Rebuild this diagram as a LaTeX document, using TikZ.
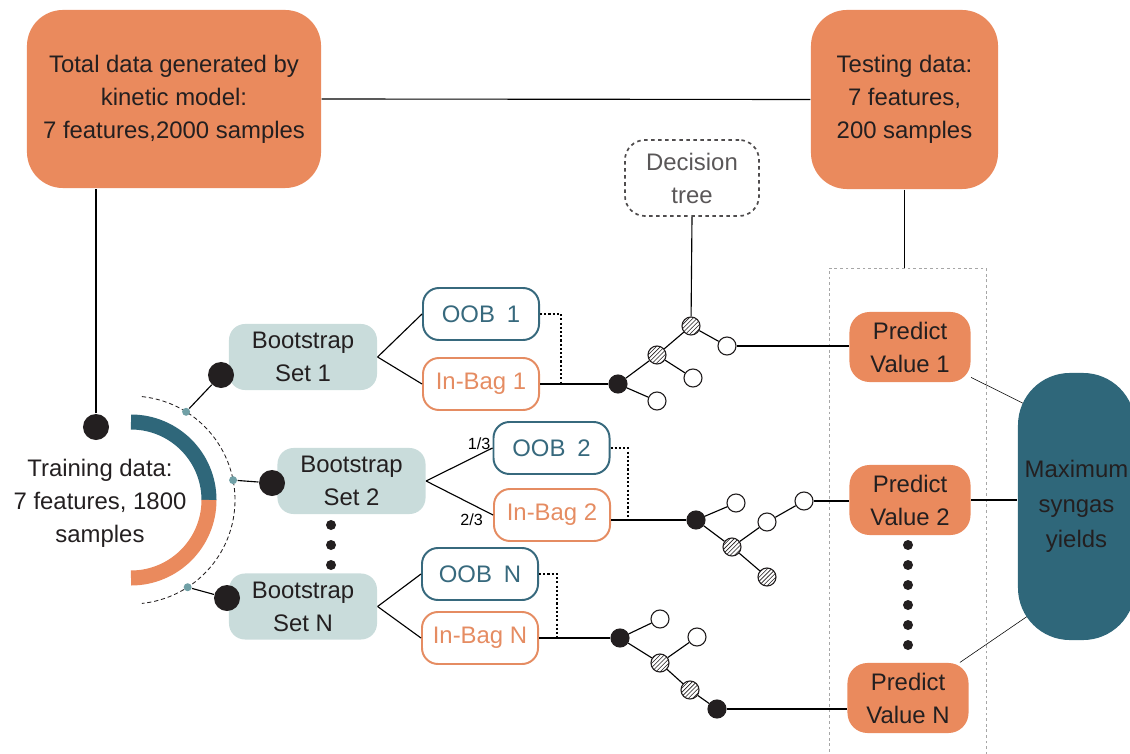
\documentclass[tikz,border=0pt]{standalone}
\usepackage{fontspec}
\setmainfont{Liberation Sans}
\usetikzlibrary{patterns,backgrounds}

\definecolor{oranye}{RGB}{234,138,93}
\definecolor{birutua}{RGB}{47,103,122}
\definecolor{birumuda}{RGB}{201,220,219}
\definecolor{garisoob}{RGB}{55,105,125}
\definecolor{garisbag}{RGB}{229,140,98}
\definecolor{teks}{RGB}{35,31,32}
\definecolor{titik}{RGB}{112,160,166}

\begin{document}
\begin{tikzpicture}[x=0.025cm, y=-0.025cm, line width=0.8pt,
    font=\fontsize{17}{23.5}\selectfont,
    kotakdata/.style={rectangle, rounded corners=0.9cm, fill=oranye, text=teks, align=center},
    kotakboot/.style={rectangle, rounded corners=0.4cm, fill=birumuda, text=teks, align=center,
        minimum width=3.7cm, minimum height=1.65cm},
    kotakoob/.style={rectangle, rounded corners=0.4cm, draw=garisoob, line width=1.4pt, text=garisoob,
        minimum width=2.9cm, minimum height=1.3cm},
    kotakbag/.style={kotakoob, draw=garisbag, text=garisbag},
    kotakpred/.style={rectangle, rounded corners=0.5cm, fill=oranye, text=teks, align=center,
        minimum width=3.025cm, minimum height=1.75cm},
    bulathitam/.style={circle, fill=teks, inner sep=0, minimum size=0.65cm},
    bulatkecil/.style={circle, fill=titik, inner sep=0, minimum size=0.2cm},
    elipsis/.style={circle, fill=teks, inner sep=0, minimum size=0.25cm},
    akar/.style={circle, draw=teks, fill=teks, inner sep=0, minimum size=0.45cm},
    daun/.style={circle, draw=teks, fill=white, inner sep=0, minimum size=0.45cm},
    belah/.style={circle, draw=teks, preaction={fill=white}, pattern=north east lines,
        pattern color=teks, inner sep=0, minimum size=0.45cm},
    bintik/.style={line width=1.2pt, dash pattern=on 1.5pt off 1.5pt},
]
    \useasboundingbox (0,0) rectangle (1130,754);

    % Kotak data
    \node[kotakdata, minimum width=7.35cm, minimum height=4.45cm] (total) at (174,99)
        {Total data generated by\\kinetic model:\\7 features,2000 samples};
    \node[kotakdata, minimum width=4.675cm, minimum height=4.475cm] (uji) at (904.5,99.5)
        {Testing data:\\7 features,\\200 samples};
    \node[rectangle, rounded corners=0.5cm, draw=teks!80, line width=1.2pt, dash pattern=on 2.5pt off 2.5pt,
        text=teks!75, align=center, minimum width=3.35cm, minimum height=1.9cm] (pohon) at (692,178)
        {Decision\\tree};
    \node[rectangle, draw=gray!70, line width=0.6pt, dash pattern=on 2pt off 2pt,
        minimum width=3.925cm, minimum height=12.6cm] (bingkai) at (907.5,520) {};

    \draw (total.east) -- (uji.west);
    \draw (uji.south) -- (uji.south |- bingkai.north);

    % Data latih dan cincin
    \node[text=teks, align=center] (latih) at (100,503) {Training data:\\7 features, 1800\\samples};
    \draw[birutua, line width=0.375cm] (131,500) ++(-90:78) arc[start angle=-90, end angle=0, radius=78];
    \draw[oranye, line width=0.375cm] (131,500) ++(0:78) arc[start angle=0, end angle=90, radius=78];
    \draw[teks, line width=0.6pt, densely dashed] (131,500) ++(-84:104) arc[start angle=-84, end angle=84, radius=104];

    \node[bulathitam] (dlatih) at (96,427) {};
    \draw (dlatih) -- (dlatih |- total.south);

    % Set bootstrap
    \node[kotakboot] (set1) at (303,357) {Bootstrap\\Set 1};
    \node[kotakboot] (set2) at (351.5,481) {Bootstrap\\Set 2};
    \node[kotakboot] (setn) at (303,606.5) {Bootstrap\\Set N};

    \node[bulatkecil] (s1) at ([shift={(-58:104)}]131,500) {};
    \node[bulatkecil] (s2) at ([shift={(-11:104)}]131,500) {};
    \node[bulatkecil] (s3) at ([shift={(57:104)}]131,500) {};
    \node[bulathitam] (b1) at (221,375) {};
    \node[bulathitam] (b2) at (272,483) {};
    \node[bulathitam] (b3) at (227,598) {};
    \draw (s1) -- (b1);
    \draw (s2) -- (b2);
    \draw (s3) -- (b3);
    \foreach \y in {525,545,565} \node[elipsis] (e\y) at (331,\y) {};

    % OOB dan In-Bag
    \node[kotakoob] (oob1) at (481,314) {OOB\enspace 1};
    \node[kotakbag] (ib1) at (481,384) {In-Bag 1};
    \node[kotakoob] (oob2) at (551.5,448) {OOB\enspace 2};
    \node[kotakbag] (ib2) at (552,515) {In-Bag 2};
    \node[kotakoob] (oobn) at (480,574) {OOB\enspace N};
    \node[kotakbag] (ibn) at (480,638) {In-Bag N};

    \draw (set1.east) -- (oob1.west);
    \draw (set1.east) -- (ib1.west);
    \draw (set2.east) -- node[pos=0.8, above, font=\fontsize{11.5}{13}\selectfont] (l13) {1/3} (oob2.west);
    \draw (set2.east) -- node[pos=0.8, below, xshift=-0.2cm, font=\fontsize{11.5}{13}\selectfont] (l23) {2/3} (ib2.west);
    \draw (setn.east) -- (oobn.west);
    \draw (setn.east) -- (ibn.west);

    % Pohon 1
    \node[akar] (t1a) at (618,384) {};
    \node[belah] (t1b) at (657,355) {};
    \node[belah] (t1c) at (691,326) {};
    \node[daun] (t1d) at (693,378) {};
    \node[daun] (t1e) at (657,401) {};
    \node[daun] (t1f) at (727,346) {};
    \draw (t1a) -- (t1b);
    \draw (t1a) -- (t1e);
    \draw (t1b) -- (t1c);
    \draw (t1b) -- (t1d);
    \draw (t1c) -- (t1f);
    \draw (pohon.south) -- (t1c);

    % Pohon 2
    \node[akar] (t2a) at (696,520) {};
    \node[daun] (t2b) at (736,503) {};
    \node[belah] (t2c) at (732,547) {};
    \node[belah] (t2d) at (767,577) {};
    \node[daun] (t2e) at (767,522) {};
    \node[daun] (t2f) at (804,501) {};
    \draw (t2a) -- (t2b);
    \draw (t2a) -- (t2c);
    \draw (t2c) -- (t2e);
    \draw (t2c) -- (t2d);
    \draw (t2e) -- (t2f);

    % Pohon N
    \node[akar] (tna) at (620,638) {};
    \node[daun] (tnb) at (660,619) {};
    \node[belah] (tnc) at (660,663) {};
    \node[daun] (tnd) at (697,637) {};
    \node[belah] (tne) at (690,690) {};
    \node[akar] (tnf) at (717,709) {};
    \draw (tna) -- (tnb);
    \draw (tna) -- (tnc);
    \draw (tnc) -- (tnd);
    \draw (tnc) -- (tne);
    \draw (tne) -- (tnf);

    % Garis bag ke pohon
    \coordinate (j1) at (561,384);
    \coordinate (j2) at (628,520);
    \coordinate (j3) at (557,638);
    \draw (ib1.east) -- (t1a);
    \draw (ib2.east |- t2a) -- (t2a);
    \draw (ibn.east) -- (tna);
    \draw[bintik] (oob1.east) -| (j1);
    \draw[bintik] (oob2.east) -| (j2);
    \draw[bintik] (oobn.east) -| (j3);

    % Prediksi
    \node[kotakpred] (p1) at (910,347) {Predict\\Value 1};
    \node[kotakpred] (p2) at (910,500) {Predict\\Value 2};
    \node[kotakpred] (pn) at (908,698) {Predict\\Value N};
    \foreach \y in {545,565,...,645} \node[elipsis] (f\y) at (908,\y) {};

    \draw (t1f) -- (t1f -| p1.west);
    \draw (t2f) -- (t2f -| p2.west);
    \draw (tnf) -- (tnf -| pn.west);

    % Hasil akhir
    \node[rectangle, rounded corners=1.3cm, fill=birutua, text=teks, align=center,
        font=\fontsize{17}{25}\selectfont, minimum width=2.925cm, minimum height=6.675cm] (maks)
        at (1076.5,506.5) {Maximum\\syngas\\yields};
    \begin{scope}[on background layer, line width=0.8pt]
        \draw (p1) -- ([shift={(22,39)}]maks.north west);
        \draw (pn) -- ([shift={(27,-36)}]maks.south west);
    \end{scope}
    \draw (p2.east) -- (p2.east -| maks.west);
\end{tikzpicture}
\end{document}
